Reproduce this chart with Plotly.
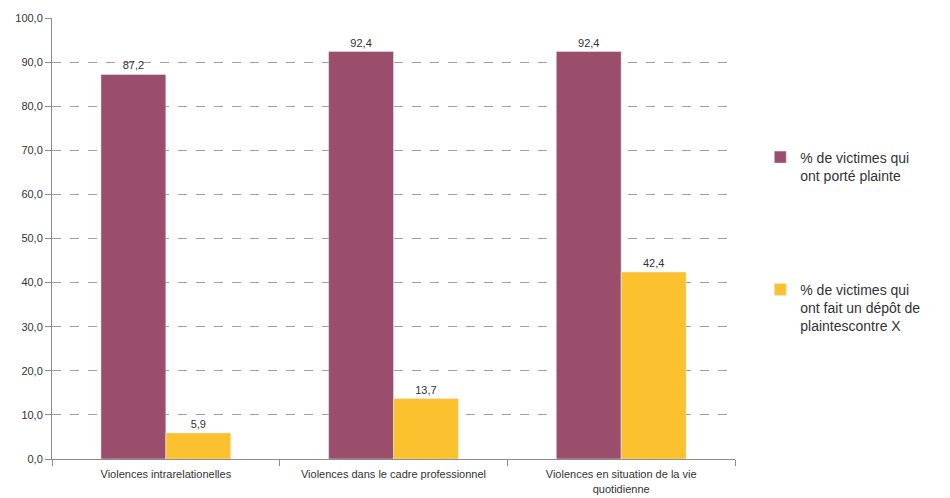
import plotly.graph_objects as go

categories = ["Violences intrarelationelles", "Violences dans le cadre professionnel",
              "Violences en situation de la vie<br>quotidienne"]
plainte = [87.2, 92.4, 92.4]
plainte_x = [5.9, 13.7, 42.4]
name1 = "% de victimes qui<br>ont porté plainte"
name2 = "% de victimes qui<br>ont fait un dépôt de<br>plaintescontre X"
yticks = [0, 10, 20, 30, 40, 50, 60, 70, 80, 90, 100]

fig = go.Figure()
fig.add_trace(go.Bar(x=categories, y=plainte, name=name1, marker_color="#9A4E6C",
                     text=[f"{v:.1f}".replace(".", ",") for v in plainte], textposition="outside",
                     textfont=dict(size=11, color="#333333"), cliponaxis=False, legend="legend"))
fig.add_trace(go.Bar(x=categories, y=plainte_x, name=name2, marker_color="#FCC12E",
                     text=[f"{v:.1f}".replace(".", ",") for v in plainte_x], textposition="outside",
                     textfont=dict(size=11, color="#333333"), cliponaxis=False, legend="legend2"))

fig.update_layout(
    width=950, height=498,
    margin=dict(l=44, r=223, t=10, b=47),
    paper_bgcolor="white", plot_bgcolor="white",
    font=dict(family="Liberation Sans, Arial, sans-serif", color="#333333"),
    barmode="group", bargap=0.43, bargroupgap=0,
    separators=",.",
    showlegend=True,
    legend=dict(x=1.037, y=0.72, xanchor="left", yanchor="top", valign="top",
                font=dict(size=14, color="#333333"), bgcolor="rgba(0,0,0,0)"),
    legend2=dict(x=1.037, y=0.42, xanchor="left", yanchor="top", valign="top",
                 font=dict(size=14, color="#333333"), bgcolor="rgba(0,0,0,0)"),
)
fig.update_yaxes(range=[0, 100], tickvals=yticks, tickformat=".1f", automargin=False,
                 showgrid=True, gridcolor="#A0A0A0", griddash="dash", gridwidth=1,
                 showline=True, linecolor="#8C8C8C", linewidth=1,
                 ticks="outside", ticklen=6, tickcolor="#8C8C8C",
                 tickfont=dict(size=11, color="#333333"), zeroline=False)
fig.update_xaxes(showline=True, linecolor="#8C8C8C", linewidth=1, automargin=False,
                 ticks="outside", tickson="boundaries", ticklen=6, tickcolor="#8C8C8C",
                 ticklabelstandoff=5,
                 tickfont=dict(size=11, color="#333333"), showgrid=False)

fig.write_html("out.html")
